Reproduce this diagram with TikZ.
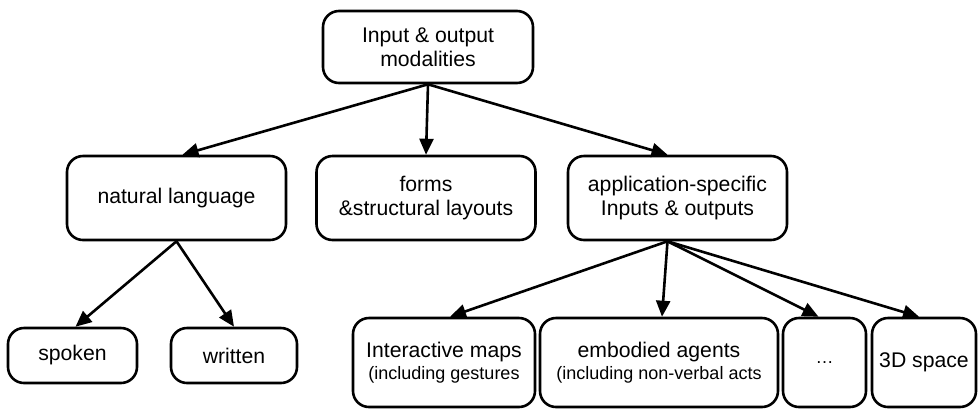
\documentclass[tikz,border=0pt]{standalone}
\usepackage{fontspec}
\setmainfont{Liberation Sans}
\usetikzlibrary{positioning,arrows.meta}

\begin{document}
\begin{tikzpicture}[x=0.5pt, y=-0.5pt,
box/.style={rectangle, draw=black, line width=1.3pt, rounded corners=8pt, align=center, inner sep=0pt, font=\fontsize{10.6}{12}\selectfont},
top/.style={box, minimum width=105pt, minimum height=36pt},
mid/.style={box, minimum width=109.5pt, minimum height=42pt},
low/.style={box, minimum height=27.5pt},
leaf/.style={box, minimum height=44.5pt},
note/.style={font=\fontsize{9}{12}\selectfont},
arr/.style={-{Triangle[length=8pt, width=7pt]}, line width=1.3pt}
]
\useasboundingbox (0,0) rectangle (978,408);

\node[top] (root) at (428,47) {Input \& output\\modalities};

\node[mid] (nat) at (176.5,198) {natural language};
\node[mid] (forms) at (426,198) {forms\\\&structural layouts};
\node[mid] (app) at (677.5,198) {application-specific\\Inputs \& outputs};

\node[low, minimum width=64.5pt] (spoken) at (72.5,355.5) {spoken};
\node[low, minimum width=63pt] (written) at (234,355.5) {written};

\node[leaf, minimum width=91pt] (maps) at (444,362.5) {Interactive maps\\[-1pt]{\fontsize{9}{12}\selectfont(including gestures}};
\node[leaf, minimum width=119pt] (agents) at (659,362.5) {embodied agents\\[-1pt]{\fontsize{9}{12}\selectfont(including non-verbal acts}};
\node[leaf, minimum width=41.5pt] (more) at (824.5,362.5) {{\fontsize{9}{12}\selectfont …}};
\node[leaf, minimum width=52pt] (space) at (924,362.5) {3D space};

\draw[arr] (root.south) -- ([xshift=3pt]nat.north);
\draw[arr] (root.south) -- (forms.north);
\draw[arr] (root.south) -- ([xshift=-5pt]app.north);

\draw[arr] (nat.south) -- ([xshift=1.5pt]spoken.north);
\draw[arr] (nat.south) -- (written.north);

\draw[arr] ([xshift=-5pt]app.south) -- ([xshift=3pt]maps.north);
\draw[arr] ([xshift=-5pt]app.south) -- ([xshift=1.5pt]agents.north);
\draw[arr] ([xshift=-5pt]app.south) -- ([xshift=-3pt]more.north);
\draw[arr] ([xshift=-5pt]app.south) -- ([xshift=-2.5pt]space.north);
\end{tikzpicture}
\end{document}
